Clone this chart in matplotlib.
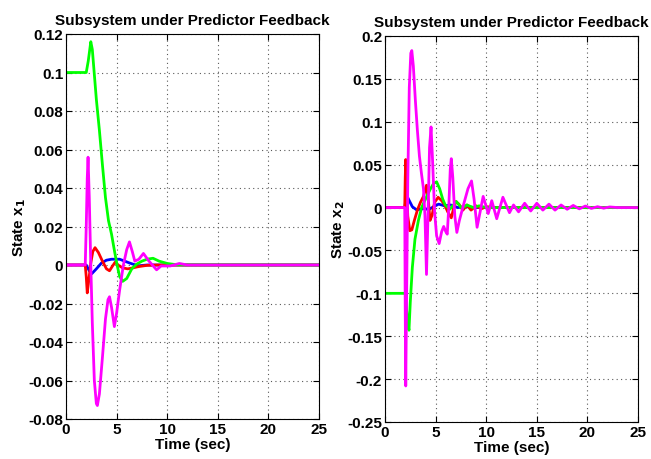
import numpy as np
import matplotlib.pyplot as plt

plt.rcParams['font.family'] = ['Liberation Sans', 'DejaVu Sans']
plt.rcParams['font.weight'] = 'bold'

# ---- left panel: state x1 (time, value) ----
t1_blue = [0, 2.0, 2.3, 2.55, 3.0, 3.5, 4.0, 4.5, 5.0, 5.3, 5.8, 6.3, 6.7, 7.2, 8.0, 25]
x1_blue = [0, 0, -0.003, -0.0045, -0.002, 0.001, 0.0025, 0.003, 0.003, 0.003, 0.002, 0.001, 0.0003, -0.0004, 0, 0]

t1_red = [0, 1.9, 2.0, 2.1, 2.25, 2.45, 2.65, 2.87, 3.2, 3.6, 4.0, 4.3, 4.6, 4.85, 5.2, 5.6, 6.1, 6.6, 7.2, 8.0, 9.0, 25]
x1_red = [0, 0, -0.006, -0.0145, -0.008, 0.001, 0.007, 0.009, 0.0065, 0.002, -0.002, -0.003, -0.0005, 0.0014, -0.0002, -0.0015, -0.002, -0.0015, -0.0008, -0.0002, 0, 0]

t1_green = [0, 2.0, 2.2, 2.45, 2.6, 2.8, 3.0, 3.3, 3.6, 3.9, 4.2, 4.5, 4.8, 5.05, 5.3, 5.6, 6.0, 6.5, 7.0, 7.5, 8.0, 8.6, 9.2, 10.0, 11.0, 25]
x1_green = [0.1, 0.1, 0.106, 0.116, 0.112, 0.099, 0.086, 0.07, 0.052, 0.035, 0.023, 0.016, 0.007, 0.0, -0.006, -0.0085, -0.007, -0.002, 0.0005, 0.002, 0.003, 0.0035, 0.002, 0.0008, 0.0001, 0]

t1_mag = [0, 1.9, 2.0, 2.1, 2.18, 2.3, 2.45, 2.6, 2.8, 3.0, 3.1, 3.3, 3.6, 3.9, 4.15, 4.3, 4.5, 4.78, 5.0, 5.3, 5.67, 6.0, 6.27, 6.55, 6.8, 7.2, 7.65, 8.2, 8.95, 9.4, 10.3, 11.2, 12.0, 25]
x1_mag = [0, 0, 0.02, 0.045, 0.056, 0.035, 0.0, -0.03, -0.06, -0.072, -0.073, -0.067, -0.048, -0.028, -0.018, -0.0165, -0.022, -0.032, -0.025, -0.013, 0.0, 0.008, 0.012, 0.007, 0.002, 0.003, 0.006, 0.002, -0.0025, -0.0005, -0.0005, 0.0008, 0, 0]

# ---- right panel: state x2 ----
t2_blue = [0, 1.95, 2.05, 2.15, 2.4, 2.7, 3.1, 3.5, 3.9, 4.3, 4.8, 5.3, 5.9, 6.5, 7.2, 8.0, 9.0, 25]
x2_blue = [0, 0, 0.008, 0.014, 0.008, 0.001, -0.0025, -0.002, -0.001, -0.0025, 0.001, 0.004, 0.002, 0.003, 0.0, 0.001, 0, 0]

t2_red = [0, 1.95, 2.0, 2.05, 2.12, 2.25, 2.45, 2.65, 2.9, 3.2, 3.5, 3.8, 4.1, 4.3, 4.45, 4.65, 4.9, 5.25, 5.6, 5.9, 6.2, 6.55, 6.8, 7.0, 7.3, 7.7, 8.1, 8.5, 9.0, 9.5, 10.0, 11.0, 25]
x2_red = [0, 0, 0.035, 0.056, 0.03, -0.01, -0.027, -0.026, -0.015, -0.003, 0.006, 0.013, 0.026, 0.006, -0.015, -0.009, 0.006, 0.012, 0.008, 0.003, -0.005, -0.012, 0.0, 0.007, 0.004, -0.003, 0.003, -0.003, 0.002, -0.0015, 0.001, 0, 0]

t2_green = [0, 2.0, 2.1, 2.25, 2.37, 2.5, 2.7, 2.96, 3.3, 3.62, 4.0, 4.5, 4.8, 5.1, 5.4, 5.7, 5.95, 6.4, 7.05, 7.6, 8.1, 8.7, 9.3, 10.0, 25]
x2_green = [-0.1, -0.1, -0.115, -0.135, -0.143, -0.11, -0.07, -0.037, -0.015, 0.0, 0.01, 0.022, 0.028, 0.03, 0.022, 0.01, 0.003, -0.002, 0.007, -0.001, 0.003, 0.0, 0.002, 0, 0]

t2_mag = [0, 1.95, 2.0, 2.05, 2.12, 2.25, 2.4, 2.55, 2.65, 2.8, 3.0, 3.2, 3.4, 3.6, 3.8, 3.95, 4.1, 4.25, 4.4, 4.55, 4.7, 4.9, 5.1, 5.35, 5.6, 5.8, 6.0, 6.15, 6.3, 6.45, 6.55, 6.7, 6.9, 7.1, 7.35, 7.8, 8.2, 8.55, 8.8, 9.1, 9.4, 9.7, 10.2, 10.55, 11.04, 11.65, 12.3, 12.7, 13.2, 13.8, 14.4, 15.0, 15.6, 16.2, 16.8, 17.4, 18.0, 18.6, 19.2, 19.8, 20.4, 21.0, 21.6, 22.2, 23.0, 25]
x2_mag = [0, 0, -0.12, -0.208, -0.12, 0.03, 0.14, 0.18, 0.183, 0.165, 0.125, 0.09, 0.06, 0.04, 0.022, -0.01, -0.078, -0.01, 0.07, 0.094, 0.055, -0.005, -0.033, -0.042, -0.028, -0.022, -0.028, -0.031, 0.0, 0.045, 0.057, 0.035, -0.01, -0.029, -0.015, 0.005, 0.022, 0.031, 0.01, -0.023, -0.005, 0.013, -0.007, 0.008, -0.013, 0.012, -0.006, 0.003, -0.005, 0.005, -0.004, 0.005, -0.003, 0.004, -0.003, 0.003, -0.002, 0.0025, -0.0015, 0.0018, -0.001, 0.001, -0.0007, 0.0007, 0, 0]

xticks = [0, 5, 10, 15, 20, 25]
y1_ticks = [-0.08, -0.06, -0.04, -0.02, 0, 0.02, 0.04, 0.06, 0.08, 0.1, 0.12]
y1_labels = ['-0.08', '-0.06', '-0.04', '-0.02', '0', '0.02', '0.04', '0.06', '0.08', '0.1', '0.12']
y2_ticks = [-0.25, -0.2, -0.15, -0.1, -0.05, 0, 0.05, 0.1, 0.15, 0.2]
y2_labels = ['-0.25', '-0.2', '-0.15', '-0.1', '-0.05', '0', '0.05', '0.1', '0.15', '0.2']

fig = plt.figure(figsize=(6.51, 4.6), dpi=100)
ax1 = fig.add_axes([66 / 651, 1 - 420 / 460, 253 / 651, 385 / 460])
ax2 = fig.add_axes([385 / 651, 1 - 423 / 460, 253 / 651, 386 / 460])

lw = 2.0
for ax, data in [(ax1, [(t1_blue, x1_blue, 'b'), (t1_red, x1_red, 'r'), (t1_green, x1_green, '#00ff00'), (t1_mag, x1_mag, '#ff00ff')]),
                 (ax2, [(t2_blue, x2_blue, 'b'), (t2_red, x2_red, 'r'), (t2_green, x2_green, '#00ff00'), (t2_mag, x2_mag, '#ff00ff')])]:
    for t, v, c in data:
        ax.plot(t, v, color=c, linewidth=lw)

for ax, yt, yl, lab in [(ax1, y1_ticks, y1_labels, 'State x$_\\mathbf{1}$'), (ax2, y2_ticks, y2_labels, 'State x$_\\mathbf{2}$')]:
    ax.set_xlim(0, 25)
    ax.set_ylim(yt[0], yt[-1])
    ax.set_xticks(xticks)
    ax.set_xticklabels([str(v) for v in xticks])
    ax.set_yticks(yt)
    ax.set_yticklabels(yl)
    ax.tick_params(direction='in', top=True, right=True, labelsize=11, length=4, width=0.8, pad=2)
    ax.grid(True, color='0.35', linestyle=(0, (1, 3)), linewidth=0.8)
    ax.set_title('Subsystem under Predictor Feedback', fontsize=11, fontweight='bold', pad=7)
    ax.set_xlabel('Time (sec)', fontsize=11, fontweight='bold', labelpad=1)
    ax.set_ylabel(lab, fontsize=11, fontweight='bold', labelpad=0)
    for spine in ax.spines.values():
        spine.set_edgecolor('black')
        spine.set_linewidth(0.8)

fig.savefig('out.png', dpi=100)
